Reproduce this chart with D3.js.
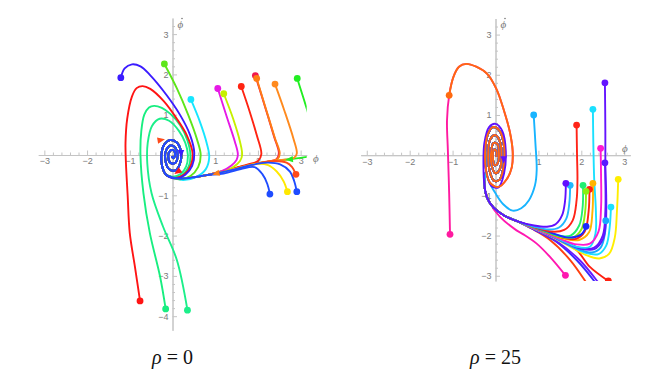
<!DOCTYPE html>
<html lang="en">

<head>
  <meta charset="UTF-8" />
  <title>phase portraits</title>
  <script src="https://cdn.jsdelivr.net/npm/d3@7/dist/d3.min.js"></script>
  <style>
    body { margin: 0; background: #fff; }
  </style>
</head>

<body>
  <svg id="svg"></svg>
</body>

<script>
  // ---- axis ticks ----
  const phiTicks = [-3, -2, -1, 1, 2, 3];
  const dotTicks0 = [-4, -3, -2, -1, 1, 2, 3];
  const dotTicks25 = [-3, -2, -1, 1, 2, 3];
  const titles = ["0", "25"];

  // ---- rho = 0 : trajectories as [phi, phidot] ----
  const spiral0 = [[-0.15, -0.49], [-0.24, -0.29], [-0.26, 0.0], [-0.2, 0.25], [-0.06, 0.37], [0.1, 0.31], [0.2, 0.07],
    [0.18, -0.2], [0.07, -0.38], [-0.08, -0.35], [-0.17, -0.1], [-0.14, 0.14], [-0.03, 0.24], [0.08, 0.16], [0.12, -0.03],
    [0.06, -0.2], [-0.05, -0.19], [-0.1, -0.04], [-0.06, 0.1], [0.02, 0.12], [0.06, 0.01], [0.02, -0.08], [-0.02, -0.03]];
  const bundle0 = [[0.8, -0.5], [0.45, -0.56], [0.2, -0.59], [0.02, -0.56]];

  const blueA = [[-1.21, 1.92], [-1.12, 2.15], [-0.95, 2.25], [-0.75, 2.2], [-0.53, 1.99], [-0.14, 1.49], [0.18, 0.99],
    [0.41, 0.5], [0.51, 0.05], [0.46, -0.27], [0.3, -0.49], [0.1, -0.58]];
  const redA = [[-0.76, -3.62], [-0.88, -2.77], [-1.0, -1.94], [-1.05, -1.0], [-1.09, -0.2], [-1.1, 0.3], [-1.06, 0.9],
    [-0.95, 1.45], [-0.84, 1.66], [-0.7, 1.71], [-0.52, 1.64], [-0.2, 1.33], [0.1, 0.9], [0.33, 0.5], [0.47, 0.05],
    [0.43, -0.25], [0.28, -0.48], [0.08, -0.57]];
  const greenA = [[-0.16, -3.82], [-0.29, -3.02], [-0.53, -1.94], [-0.68, -0.95], [-0.75, 0.0], [-0.73, 0.6], [-0.66, 1.0],
    [-0.55, 1.18], [-0.43, 1.22], [-0.25, 1.17], [-0.05, 1.02], [0.18, 0.74], [0.35, 0.36], [0.42, 0.0], [0.38, -0.28],
    [0.22, -0.5], [0.04, -0.56]];
  const greenB = [[0.35, -3.85], [0.1, -2.6], [-0.22, -1.78], [-0.49, -0.95], [-0.59, -0.21], [-0.58, 0.3], [-0.48, 0.72],
    [-0.3, 0.9], [-0.08, 0.85], [0.15, 0.6], [0.3, 0.3], [0.36, 0.0], [0.32, -0.28], [0.18, -0.48], [0.02, -0.54]];
  const limeA = [[-0.19, 2.26], [0.1, 1.66], [0.37, 0.99], [0.57, 0.4], [0.66, 0.0], [0.6, -0.3], [0.42, -0.52],
    [0.18, -0.6], [0.02, -0.57]];
  const cyanA = [[0.43, 1.38], [0.64, 0.83], [0.8, 0.3], [0.86, -0.05], [0.78, -0.35], [0.55, -0.55], [0.25, -0.62],
    [0.04, -0.57]];
  const magentaA = [[1.06, 1.65], [1.27, 0.95], [1.46, 0.33], [1.53, 0.02], [1.5, -0.12], [1.38, -0.26], [1.15, -0.4]];
  const chartA = [[1.2, 1.52], [1.42, 0.9], [1.58, 0.33], [1.63, 0.0], [1.58, -0.15], [1.42, -0.3], [1.15, -0.41]];
  const redB = [[1.61, 1.7], [1.8, 1.1], [1.97, 0.5], [2.08, 0.02], [2.0, -0.15], [1.75, -0.24], [1.4, -0.34], [1.1, -0.43]];
  const roseA = [[1.94, 1.97], [2.18, 1.15], [2.38, 0.45], [2.49, 0.05], [2.44, -0.1], [2.2, -0.18], [1.9, -0.23],
    [1.5, -0.33], [1.1, -0.43]];
  const orangeA = [[1.97, 1.9], [2.2, 1.1], [2.4, 0.41], [2.51, 0.04], [2.46, -0.1], [2.2, -0.17], [1.9, -0.22],
    [1.5, -0.32], [1.1, -0.42]];
  const orangeB = [[2.4, 1.76], [2.62, 1.1], [2.83, 0.41], [2.91, 0.04], [2.85, -0.07], [2.5, -0.13], [2.1, -0.19],
    [1.7, -0.28], [1.3, -0.38], [1.0, -0.45]];
  const greenC = [[2.92, 1.9], [3.14, 1.16], [3.3, 0.6]];
  const greenD = [[3.3, -0.02], [3.0, -0.07], [2.7, -0.11], [2.3, -0.16], [1.9, -0.22], [1.5, -0.32], [1.1, -0.42]];
  const blueB = [[2.28, -0.97], [2.22, -0.72], [2.1, -0.47], [1.92, -0.3], [1.6, -0.35], [1.2, -0.46]];
  const yellowA = [[2.69, -0.91], [2.6, -0.65], [2.44, -0.41], [2.24, -0.25], [1.95, -0.22], [1.6, -0.31], [1.2, -0.42]];
  const blueC = [[2.91, -0.91], [2.85, -0.65], [2.75, -0.41], [2.52, -0.23], [2.2, -0.19], [1.8, -0.26], [1.4, -0.37],
    [1.05, -0.45]];
  const orangeC = [[2.89, -0.48], [2.8, -0.3], [2.67, -0.19], [2.4, -0.15], [2.0, -0.2], [1.6, -0.3], [1.2, -0.41]];

  // ---- rho = 25 ----
  const spiral25 = [[-0.22, -0.38], [-0.24, 0.1], [-0.18, 0.52], [-0.05, 0.7], [0.1, 0.6], [0.2, 0.22], [0.19, -0.25],
    [0.1, -0.6], [-0.03, -0.64], [-0.14, -0.38], [-0.17, 0.05], [-0.12, 0.4], [0.0, 0.5], [0.1, 0.35], [0.14, 0.0],
    [0.1, -0.35], [0.0, -0.45], [-0.09, -0.25], [-0.1, 0.08], [-0.05, 0.3], [0.04, 0.28], [0.08, 0.05], [0.05, -0.2],
    [-0.02, -0.25], [-0.06, -0.06], [-0.03, 0.14], [0.02, 0.1], [0.02, -0.04]];
  const approach25 = [[0.5, -1.64], [0.2, -1.5], [-0.05, -1.3], [-0.2, -1.05], [-0.26, -0.72]];
  const outerLoop25 = [[-0.28, -0.3], [-0.26, 0.3], [-0.15, 0.7], [0.0, 0.78], [0.16, 0.6], [0.24, 0.1], [0.2, -0.45],
    [0.07, -0.8], [-0.1, -0.76]];
  const loop25 = [[-0.98, 1.95], [-0.85, 2.2], [-0.68, 2.27], [-0.45, 2.2], [-0.2, 2.03], [0.02, 1.65], [0.2, 1.1],
    [0.33, 0.6], [0.4, 0.1], [0.38, -0.3], [0.26, -0.6], [0.07, -0.79], [-0.13, -0.68]];

  const orangeR = [[-1.08, 1.49]];
  const pinkR = [[-1.06, -1.97], [-1.08, -0.95], [-1.11, 0.12], [-1.13, 0.87], [-1.08, 1.49]];
  const skyR = [[0.89, 1.0], [0.93, 0.3], [0.96, -0.37], [0.92, -0.75], [0.78, -1.12], [0.6, -1.32], [0.4, -1.38],
    [0.18, -1.22], [0.0, -0.95], [-0.15, -0.65]];
  const purpleR1 = [[1.64, -0.7], [1.62, -1.15], [1.55, -1.5], [1.4, -1.72], [1.2, -1.78], [0.9, -1.75]];
  const skyR2 = [[1.74, -0.75], [1.72, -1.2], [1.65, -1.58], [1.48, -1.8], [1.25, -1.85], [0.9, -1.78]];
  const redR = [[1.89, 0.75], [1.9, 0.0], [1.91, -0.6], [1.89, -1.12], [1.8, -1.62], [1.6, -1.86], [1.3, -1.9], [0.95, -1.8]];
  const greenR = [[2.04, -0.75], [2.03, -1.3], [1.95, -1.75], [1.75, -2.0], [1.45, -2.0], [1.0, -1.83]];
  const chartR = [[2.11, -0.9], [2.09, -1.4], [2.0, -1.85], [1.8, -2.05], [1.5, -2.03], [1.05, -1.85]];
  const redR2 = [[2.19, -0.85], [2.17, -1.4], [2.08, -1.9], [1.88, -2.08], [1.55, -2.05], [1.05, -1.86]];
  const amberR = [[2.27, -0.7], [2.26, -1.4], [2.18, -1.92], [1.95, -2.11], [1.6, -2.08], [1.1, -1.88]];
  const magentaR = [[2.45, 0.17], [2.46, -0.5], [2.46, -1.3], [2.4, -1.9], [2.2, -2.2], [1.9, -2.22], [1.5, -2.08], [1.1, -1.9]];
  const cyanR = [[2.27, 1.14], [2.28, 0.3], [2.3, -0.6], [2.34, -1.4], [2.33, -1.95], [2.2, -2.28], [1.9, -2.28],
    [1.5, -2.1], [1.1, -1.9]];
  const purpleR2 = [[2.55, 1.8], [2.56, 0.6], [2.56, -0.5], [2.56, -1.4], [2.5, -2.0], [2.3, -2.3], [2.0, -2.32],
    [1.6, -2.15], [1.15, -1.92]];
  const purpleR3 = [[2.55, -0.19], [2.58, -1.0], [2.57, -1.7], [2.5, -2.1], [2.3, -2.34], [2.0, -2.33], [1.6, -2.16],
    [1.15, -1.93]];
  const azureR = [[2.57, -1.63], [2.55, -1.95], [2.45, -2.3], [2.25, -2.42], [1.95, -2.35], [1.55, -2.15], [1.15, -1.93]];
  const cyanR2 = [[2.69, -1.29], [2.66, -1.8], [2.58, -2.25], [2.4, -2.46], [2.1, -2.43], [1.7, -2.22], [1.2, -1.96]];
  const yellowR = [[2.86, -0.6], [2.83, -1.4], [2.78, -2.05], [2.65, -2.45], [2.42, -2.57], [2.1, -2.48], [1.7, -2.25],
    [1.2, -1.97]];
  const navyR = [[2.11, -1.77], [2.0, -1.97], [1.7, -2.05], [1.3, -1.93], [0.95, -1.8]];
  const orangeRedR = [[2.25, -3.4], [2.09, -3.13], [1.74, -2.61], [1.27, -2.11], [0.85, -1.83]];
  const blueR = [[2.48, -3.4], [2.3, -3.13], [1.9, -2.62], [1.4, -2.14], [0.9, -1.85]];
  const violetR = [[2.55, -3.4], [2.37, -3.13], [1.97, -2.62], [1.45, -2.16], [0.95, -1.87]];
  const redR3 = [[2.63, -3.13], [2.2, -2.78], [1.89, -2.36], [1.5, -2.12], [1.0, -1.88]];
  const magentaR2 = [[1.63, -2.99], [1.27, -2.53], [0.96, -2.2], [0.65, -1.97], [0.49, -1.87], [0.1, -1.53],
    [-0.15, -1.15], [-0.26, -0.75]];

  // small arrowheads: series name, position, heading (degrees)
  const arrows0 = [
    { s: "orangeA", at: [1.03, -0.46], dir: 195 },
    { s: "greenD", at: [2.75, -0.11], dir: 185 },
    { s: "orangeC", at: [-0.28, 0.37], dir: 10 },
    { s: "redA", at: [0.13, -0.41], dir: 215 },
    { s: "blueA", at: [0.2, 0.05], dir: 270 }
  ];
  const arrows25 = [
    { s: "purpleR1", at: [0.19, -0.1], dir: 270 }
  ];

  const colors = {
    blueA: "#3b1cff", redA: "#ff1414", greenA: "#18ee80", greenB: "#1cef8a", limeA: "#5ee61a", cyanA: "#16e6ff",
    magentaA: "#e619e6", chartA: "#c6f000", redB: "#ff2412", roseA: "#f0184e", orangeA: "#ff7d14", orangeB: "#ff8a1e",
    greenC: "#22ee22", greenD: "#22ee22", blueB: "#1f4cff", yellowA: "#ffe800", blueC: "#1f4cff", orangeC: "#ff4a1a",
    orangeR: "#ff6a0f", pinkR: "#ff1aa0", skyR: "#18b4ff", purpleR1: "#6010ff", skyR2: "#20b8ff", redR: "#ff2418",
    greenR: "#20ee70", chartR: "#8aee10", redR2: "#ff2010", amberR: "#ffb400", magentaR: "#ff1ad0", cyanR: "#1ae0ff",
    purpleR2: "#6414ff", purpleR3: "#5a1aff", azureR: "#18a8ff", cyanR2: "#1ae0ff", yellowR: "#ffee00", navyR: "#1a2aff",
    orangeRedR: "#ff4010", blueR: "#3a2aff", violetR: "#6a1aff", redR3: "#ff2010", magentaR2: "#ff18b0"
  };

  const series0 = [
    ["greenD", greenD.concat(bundle0, spiral0)],
    ["roseA", roseA.concat(bundle0, spiral0)],
    ["orangeB", orangeB.concat(bundle0, spiral0)],
    ["orangeA", orangeA.concat(bundle0, spiral0)],
    ["redB", redB.concat(bundle0, spiral0)],
    ["chartA", chartA.concat(bundle0, spiral0)],
    ["magentaA", magentaA.concat(bundle0, spiral0)],
    ["orangeC", orangeC.concat(bundle0, spiral0)],
    ["yellowA", yellowA.concat(bundle0, spiral0)],
    ["blueC", blueC.concat(bundle0, spiral0)],
    ["greenC", greenC],
    ["cyanA", cyanA.concat(spiral0)],
    ["limeA", limeA.concat(spiral0)],
    ["greenB", greenB.concat(spiral0)],
    ["greenA", greenA.concat(spiral0)],
    ["redA", redA.concat(spiral0)],
    ["blueA", blueA.concat(spiral0)],
    ["blueB", blueB.concat(bundle0, spiral0)]
  ];

  const series25 = [
    ["pinkR", pinkR.concat(loop25, spiral25)],
    ["magentaR2", magentaR2.concat(spiral25)],
    ["orangeRedR", orangeRedR.concat(approach25, spiral25)],
    ["redR3", redR3.concat(approach25, spiral25)],
    ["blueR", blueR.concat(approach25, spiral25)],
    ["violetR", violetR.concat(approach25, spiral25)],
    ["yellowR", yellowR.concat(approach25, spiral25)],
    ["cyanR2", cyanR2.concat(approach25, spiral25)],
    ["azureR", azureR.concat(approach25, spiral25)],
    ["purpleR3", purpleR3.concat(approach25, spiral25)],
    ["purpleR2", purpleR2.concat(approach25, spiral25)],
    ["cyanR", cyanR.concat(approach25, spiral25)],
    ["magentaR", magentaR.concat(approach25, spiral25)],
    ["amberR", amberR.concat(approach25, spiral25)],
    ["redR2", redR2.concat(approach25, spiral25)],
    ["chartR", chartR.concat(approach25, spiral25)],
    ["greenR", greenR.concat(approach25, spiral25)],
    ["navyR", navyR.concat(approach25, spiral25)],
    ["redR", redR.concat(approach25, spiral25)],
    ["skyR2", skyR2.concat(approach25, spiral25)],
    ["skyR", skyR.concat(spiral25)],
    ["purpleR1", purpleR1.concat(approach25, outerLoop25, spiral25)],
    ["orangeR", orangeR.concat(loop25, spiral25)]
  ];

  const width = 667;
  const height = 375;
  const svg = d3.select("#svg").attr("width", width).attr("height", height);

  const panels = [
    { id: "p0", xRange: [38.3, 306.7], yDomain: [-4.35, 3.4], yRange: [330.3, 18], yTicks: dotTicks0,
      series: series0, arrows: arrows0, title: titles[0], phiLabel: [313, 162] },
    { id: "p25", xRange: [360.7, 630.3], yDomain: [-3.13, 3.4], yRange: [281, 18.5], yTicks: dotTicks25,
      series: series25, arrows: arrows25, title: titles[1], phiLabel: [622, 152] }
  ];

  const minor = d3.range(-20, 20).filter(i => i % 5 !== 0).map(i => i / 5);

  panels.forEach(p => drawPanel(p));

  function drawPanel(p) {
    const x = d3.scaleLinear().domain([-Math.PI, Math.PI]).range(p.xRange);
    const y = d3.scaleLinear().domain(p.yDomain).range(p.yRange);
    const g = svg.append("g");

    const xMinor = minor.filter(v => v > -Math.PI && v < Math.PI);
    const yMinor = minor.filter(v => v > p.yDomain[0] && v < p.yDomain[1]);

    // minor ticks
    const xMinorAxis = d3.axisBottom(x).tickValues(xMinor).tickSizeInner(-2.5).tickSizeOuter(0).tickFormat("");
    const yMinorAxis = d3.axisLeft(y).tickValues(yMinor).tickSizeInner(-2.5).tickSizeOuter(0).tickFormat("");
    g.append("g").attr("transform", `translate(0,${y(0)})`).call(xMinorAxis);
    g.append("g").attr("transform", `translate(${x(0)},0)`).call(yMinorAxis);

    // major ticks + labels
    const xAxis = d3.axisBottom(x).tickValues(phiTicks).tickFormat(d3.format("d"))
      .tickSizeInner(-4.5).tickSizeOuter(0).tickPadding(3);
    const yAxis = d3.axisLeft(y).tickValues(p.yTicks).tickFormat(d3.format("d"))
      .tickSizeInner(-4.5).tickSizeOuter(0).tickPadding(4);
    g.append("g").attr("transform", `translate(0,${y(0)})`).call(xAxis);
    g.append("g").attr("transform", `translate(${x(0)},0)`).call(yAxis);

    g.selectAll(".domain, .tick line").attr("stroke", "#c4c4c4").attr("stroke-width", 1);
    g.selectAll(".tick text")
      .attr("fill", "#7a7a7a")
      .attr("font-size", "9px")
      .attr("font-family", "Liberation Sans, Arial, sans-serif");

    // axis names
    g.append("text")
      .attr("x", x(0) + 5).attr("y", 28)
      .attr("font-family", "Liberation Serif, serif").attr("font-style", "italic")
      .attr("font-size", "11px").attr("fill", "#777")
      .text("ϕ");
    g.append("circle")
      .attr("cx", x(0) + 9.5).attr("cy", 18.5)
      .attr("r", 0.8).attr("fill", "#777");
    g.append("text")
      .attr("x", p.phiLabel[0]).attr("y", p.phiLabel[1])
      .attr("font-family", "Liberation Serif, serif").attr("font-style", "italic")
      .attr("font-size", "11px").attr("fill", "#777")
      .text("ϕ");

    // clip to plot box
    svg.append("clipPath").attr("id", "clip-" + p.id)
      .append("rect")
      .attr("x", p.xRange[0]).attr("y", p.yRange[1])
      .attr("width", p.xRange[1] - p.xRange[0])
      .attr("height", p.yRange[0] - p.yRange[1]);

    const plot = g.append("g").attr("clip-path", `url(#clip-${p.id})`);
    const line = d3.line()
      .x(d => x(d[0]))
      .y(d => y(d[1]))
      .curve(d3.curveCatmullRom.alpha(0.5));

    plot.selectAll("path.traj")
      .data(p.series)
      .join("path")
      .attr("class", "traj")
      .attr("d", d => line(d[1]))
      .attr("fill", "none")
      .attr("stroke", d => colors[d[0]])
      .attr("stroke-width", 1.9)
      .attr("stroke-linejoin", "round");

    plot.selectAll("path.arrow")
      .data(p.arrows)
      .join("path")
      .attr("class", "arrow")
      .attr("d", "M4.5,0L-3,-3.2L-3,3.2Z")
      .attr("transform", d => `translate(${x(d.at[0])},${y(d.at[1])}) rotate(${-d.dir})`)
      .attr("fill", d => colors[d.s]);

    plot.selectAll("circle")
      .data(p.series)
      .join("circle")
      .attr("cx", d => x(d[1][0][0]))
      .attr("cy", d => y(d[1][0][1]))
      .attr("r", 3.4)
      .attr("fill", d => colors[d[0]]);

    // caption
    const cap = svg.append("text")
      .attr("x", x(0)).attr("y", 364)
      .attr("text-anchor", "middle")
      .attr("font-family", "Liberation Serif, Times New Roman, serif")
      .attr("font-size", "20px")
      .attr("fill", "#111");
    cap.append("tspan").attr("font-style", "italic").text("ρ");
    cap.append("tspan").text(" = " + p.title);
  }
</script>

</html>
